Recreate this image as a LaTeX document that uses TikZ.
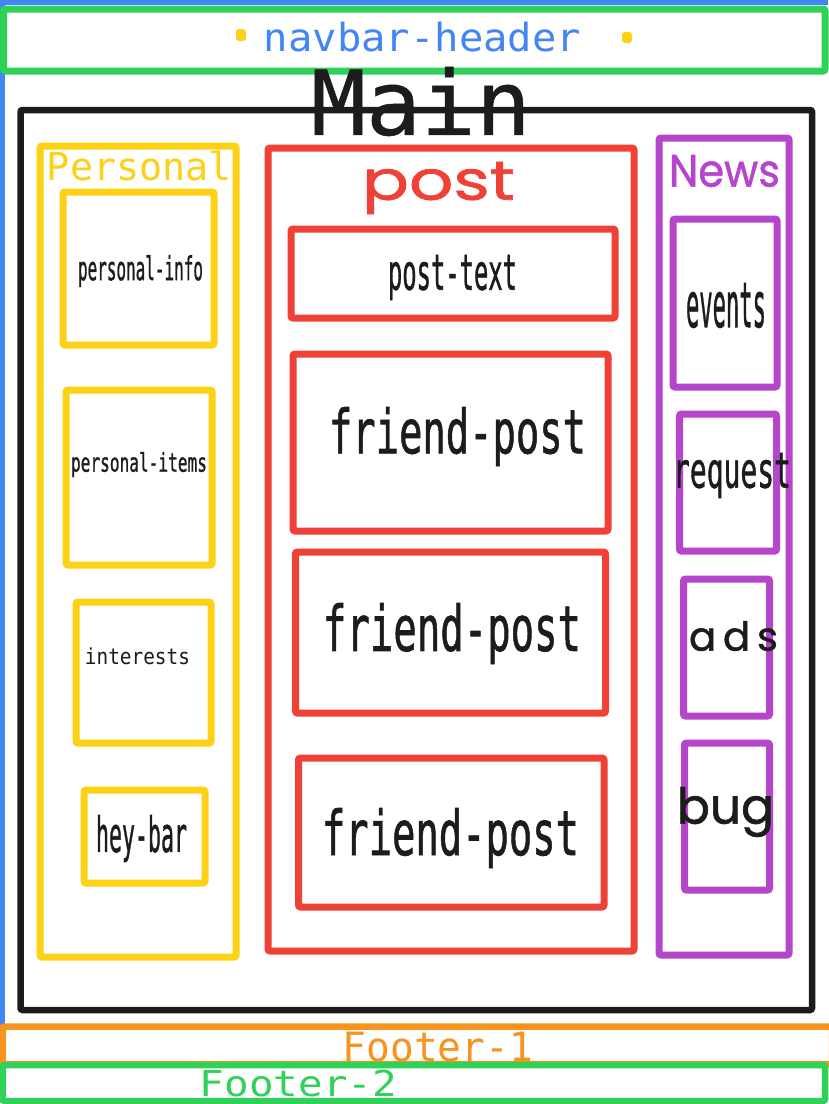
\documentclass[tikz,border=0pt]{standalone}
\usepackage{fontspec}
\usepackage{graphicx}
\setmainfont{DejaVu Sans Mono}
\newfontfamily\geo{Poppins}
\newfontfamily\geob{Poppins}[FakeBold=1.2]
\newfontfamily\mono{DejaVu Sans Mono}
\newfontfamily\monob{DejaVu Sans Mono}[FakeBold=1.2]
\newfontfamily\monom{DejaVu Sans Mono}[FakeBold=0.6]
\definecolor{cblue}{HTML}{4285F4}
\definecolor{cgreen}{HTML}{2FD158}
\definecolor{cyellow}{HTML}{FCD116}
\definecolor{cred}{HTML}{EF4136}
\definecolor{cpurple}{HTML}{B545CB}
\definecolor{corange}{HTML}{F7931E}
\definecolor{cblack}{HTML}{1C1C1C}
\newcommand\lab[7]{%
  \pgfmathsetmacro\labW{#4-#2}\pgfmathsetmacro\labH{#5-#3}%
  \node[inner sep=0pt, anchor=center, #6] (#1) at ({(#2+#4)/2},{(#3+#5)/2}) {\resizebox*{\labW pt}{\labH pt}{#7}};}
\tikzset{
  frame/.style={line width=7pt, rounded corners=2pt},
  blacktxt/.style={text=cblack, font=\monob},
}
\begin{document}
\begin{tikzpicture}[x=1pt,y=-1pt]
\useasboundingbox[fill=white] (0,0) rectangle (828,1104);
% blue outer frame
\draw[cblue, line width=5pt] (2.5,1026) -- (2.5,2.5) -- (828,2.5);
% main
\draw[frame, cblack, line width=6.5pt] (20.5,110) rectangle (812,1010);
% navbar
\draw[frame, cgreen, line width=7pt] (3.5,9) rectangle (825,71);
\lab{navtxt}{264}{22}{581}{52}{text=cblue, font=\mono}{navbar-header}
\fill[cyellow, rounded corners=3pt] (236,29) rectangle (246,41);
\fill[cyellow, rounded corners=3pt] (622,32) rectangle (632,43);
\lab{maintxt}{311}{67}{531}{136}{text=cblack, font=\monom}{Main}
% personal column
\draw[frame, cyellow] (40,146) rectangle (236,957);
\lab{perstxt}{47}{151}{232}{181}{text=cyellow, font=\mono}{Personal}
\draw[frame, cyellow] (63,192) rectangle (214,345);
\lab{pinfo}{78}{255}{203}{287}{blacktxt}{personal-info}
\draw[frame, cyellow] (66,390) rectangle (212,565);
\lab{pitems}{71}{452}{207}{477}{blacktxt}{personal-items}
\draw[frame, cyellow] (76,602) rectangle (211,743);
\lab{interests}{85}{648}{190}{665}{text=cblack, font=\mono}{interests}
\draw[frame, cyellow] (84,790) rectangle (205,883);
\lab{heybar}{96}{815}{187}{862}{blacktxt}{hey-bar}
% post column
\draw[frame, cred] (268,148) rectangle (634,951);
\lab{posttxt}{362}{162}{515}{214}{text=cred, font=\geob}{post}
\draw[frame, cred] (291,229) rectangle (615,318);
\lab{ptext}{388}{255}{517}{300}{blacktxt}{post-text}
\draw[frame, cred] (293,354) rectangle (608,531);
\lab{fpa}{329}{407}{586}{466}{blacktxt}{friend-post}
\draw[frame, cred] (295.5,552) rectangle (605.5,713);
\lab{fpb}{323}{603}{581}{664}{blacktxt}{friend-post}
\draw[frame, cred] (298.5,758) rectangle (604,907);
\lab{fpc}{322}{808}{579}{868}{blacktxt}{friend-post}
% news column
\draw[frame, cpurple] (659,138) rectangle (789,955);
\lab{newstxt}{669}{155}{780}{187}{text=cpurple, font=\geob}{News}
\draw[frame, cpurple] (673,219) rectangle (777,387);
\lab{events}{686}{283}{766}{328}{blacktxt}{events}
\draw[frame, cpurple] (679.5,414) rectangle (776.5,551);
\lab{request}{673}{453}{791}{498}{blacktxt}{request}
\draw[frame, cpurple] (683.5,579) rectangle (769.5,716);
\lab{ads}{689}{621}{778}{651}{text=cblack, font=\geob}{a\,d\,s}
\draw[frame, cpurple] (684.5,743) rectangle (769.5,890);
\lab{bug}{677}{787}{774}{837}{text=cblack, font=\geob}{bug}
% footers
\draw[frame, corange, line width=6.5pt] (2.5,1026.5) rectangle (832,1064);
\lab{foot1}{343}{1032}{533}{1062}{text=corange, font=\mono}{Footer-1}
\draw[frame, cgreen, line width=6.5pt] (2.5,1065) rectangle (825,1101);
\lab{foot2}{200}{1070}{397}{1097}{text=cgreen, font=\mono}{Footer-2}
\end{tikzpicture}
\end{document}
